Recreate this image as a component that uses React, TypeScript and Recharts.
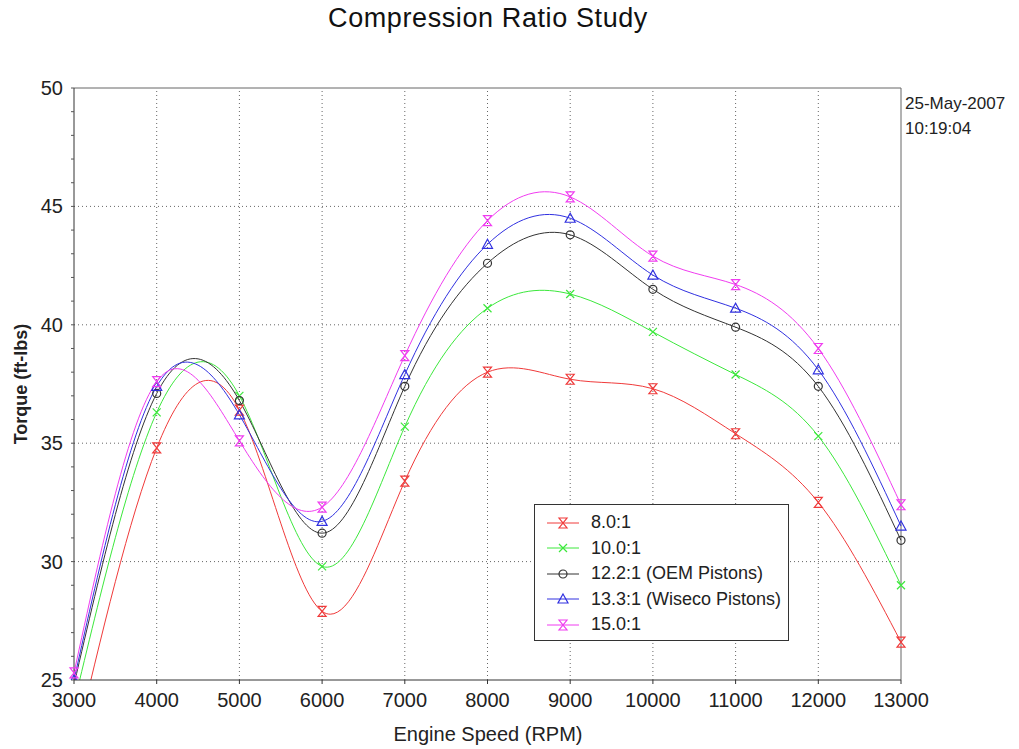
import { LineChart, Line, XAxis, YAxis, ReferenceLine } from 'recharts'

const rpm = [3000, 4000, 5000, 6000, 7000, 8000, 9000, 10000, 11000, 12000, 13000]

// torque (ft-lbs) per compression ratio
const r80 = [22.0, 34.8, 36.4, 27.9, 33.4, 38.0, 37.7, 37.3, 35.4, 32.5, 26.6]
const r100 = [24.0, 36.3, 37.0, 29.8, 35.7, 40.7, 41.3, 39.7, 37.9, 35.3, 29.0]
const r122 = [24.8, 37.1, 36.8, 31.2, 37.4, 42.6, 43.8, 41.5, 39.9, 37.4, 30.9]
const r133 = [25.0, 37.4, 36.2, 31.7, 37.9, 43.4, 44.5, 42.1, 40.7, 38.1, 31.5]
const r150 = [25.3, 37.6, 35.1, 32.3, 38.7, 44.4, 45.4, 42.9, 41.7, 39.0, 32.4]

const yTicks = [25, 26, 27, 28, 29, 30, 31, 32, 33, 34, 35, 36, 37, 38, 39, 40, 41, 42, 43, 44, 45, 46, 47, 48, 49, 50]
const yGrid = [30, 35, 40, 45]
const xGrid = [4000, 5000, 6000, 7000, 8000, 9000, 10000, 11000, 12000]

const series = [
  { key: 'r80', name: '8.0:1', color: '#f03a3a', shape: 'hourglass', values: r80 },
  { key: 'r100', name: '10.0:1', color: '#3ce83c', shape: 'x', values: r100 },
  { key: 'r122', name: '12.2:1 (OEM Pistons)', color: '#333333', shape: 'circle', values: r122 },
  { key: 'r133', name: '13.3:1 (Wiseco Pistons)', color: '#3030e0', shape: 'triangle', values: r133 },
  { key: 'r150', name: '15.0:1', color: '#f03cf0', shape: 'hourglass', values: r150 },
]

const data = rpm.map((x, i) => {
  const row: Record<string, number> = { rpm: x }
  series.forEach((s) => (row[s.key] = s.values[i]))
  return row
})

const font = '"Liberation Sans", Arial, sans-serif'

function Marker({ cx, cy, color, shape }: { cx: number; cy: number; color: string; shape: string }) {
  if (cx == null || cy == null) return null
  if (shape === 'circle') {
    return <circle cx={cx} cy={cy} r={4} fill="none" stroke={color} strokeWidth={1.2} />
  }
  if (shape === 'triangle') {
    return <path d={`M${cx},${cy - 5} L${cx + 5},${cy + 4} L${cx - 5},${cy + 4} Z`} fill="none" stroke={color} strokeWidth={1.2} />
  }
  if (shape === 'x') {
    return <path d={`M${cx - 4},${cy - 4} L${cx + 4},${cy + 4} M${cx + 4},${cy - 4} L${cx - 4},${cy + 4}`} stroke={color} strokeWidth={1.2} />
  }
  return (
    <path
      d={`M${cx - 4},${cy - 5} L${cx + 4},${cy - 5} L${cx - 4},${cy + 5} L${cx + 4},${cy + 5} Z`}
      fill="none"
      stroke={color}
      strokeWidth={1.2}
    />
  )
}

function YTick(props: any) {
  const { x, y, payload } = props
  if (payload.value % 5 !== 0) return <g />
  return (
    <text x={x} y={y} dy={7} textAnchor="end" fontSize={20} fill="#222" fontFamily={font}>
      {payload.value}
    </text>
  )
}

function LegendBox() {
  return (
    <div
      style={{
        position: 'absolute',
        left: 534,
        top: 504,
        border: '1px solid #333',
        background: '#fff',
        width: 255,
        height: 137,
        boxSizing: 'border-box',
        padding: '5px 0 0 10px',
        fontSize: 18,
        color: '#222',
        zIndex: 2,
      }}
    >
      {series.map((s) => (
        <div key={s.key} style={{ display: 'flex', alignItems: 'center', height: 25.5, whiteSpace: 'nowrap' }}>
          <svg width={36} height={14} style={{ marginRight: 10, flex: 'none' }}>
            <line x1={2} y1={7} x2={34} y2={7} stroke={s.color} strokeWidth={1} />
            <Marker cx={18} cy={7} color={s.color} shape={s.shape} />
          </svg>
          <span>{s.name}</span>
        </div>
      ))}
    </div>
  )
}

export default function App() {
  return (
    <div style={{ position: 'absolute', left: 0, top: 0, width: 1019, height: 749, background: '#fff', fontFamily: font }}>
      <div
        style={{
          position: 'absolute',
          left: 0,
          width: 976,
          top: 3,
          textAlign: 'center',
          fontSize: 27,
          letterSpacing: 0.6,
          color: '#111',
        }}
      >
        Compression Ratio Study
      </div>
      <div style={{ position: 'absolute', left: 905, top: 91, fontSize: 17, lineHeight: '25px', color: '#222' }}>
        25-May-2007
        <br />
        10:19:04
      </div>
      <div
        style={{
          position: 'absolute',
          left: 21,
          top: 384,
          transform: 'translate(-50%, -50%) rotate(-90deg)',
          fontSize: 18,
          fontWeight: 600,
          whiteSpace: 'nowrap',
          color: '#222',
        }}
      >
        Torque (ft-lbs)
      </div>
      <div style={{ position: 'absolute', left: 0, width: 976, top: 723, textAlign: 'center', fontSize: 20, color: '#222' }}>
        Engine Speed (RPM)
      </div>
      <LineChart width={1019} height={749} data={data} margin={{ top: 88, right: 118, bottom: 29, left: 14 }}>
        {xGrid.map((v) => (
          <ReferenceLine key={'x' + v} x={v} stroke="#666" strokeDasharray="1 3" />
        ))}
        {yGrid.map((v) => (
          <ReferenceLine key={'y' + v} y={v} stroke="#666" strokeDasharray="1 3" />
        ))}
        <ReferenceLine y={50} stroke="#666" />
        <ReferenceLine x={13000} stroke="#666" />
        <XAxis
          dataKey="rpm"
          type="number"
          domain={[3000, 13000]}
          ticks={rpm}
          height={40}
          interval={0}
          tickSize={4}
          tickMargin={9}
          axisLine={{ stroke: '#333' }}
          tickLine={{ stroke: '#333' }}
          tick={{ fontSize: 20, fill: '#222', fontFamily: font }}
        />
        <YAxis
          type="number"
          domain={[25, 50]}
          allowDataOverflow
          ticks={yTicks}
          interval={0}
          width={60}
          tickSize={3}
          tickMargin={8}
          axisLine={{ stroke: '#333' }}
          tickLine={{ stroke: '#555' }}
          tick={<YTick />}
        />
        {series.map((s) => (
          <Line
            key={s.key}
            type="natural"
            dataKey={s.key}
            name={s.name}
            stroke={s.color}
            strokeWidth={1}
            isAnimationActive={false}
            dot={(p: any) => <Marker key={s.key + p.index} cx={p.cx} cy={p.cy} color={s.color} shape={s.shape} />}
            activeDot={false}
          />
        ))}
      </LineChart>
      <LegendBox />
    </div>
  )
}
